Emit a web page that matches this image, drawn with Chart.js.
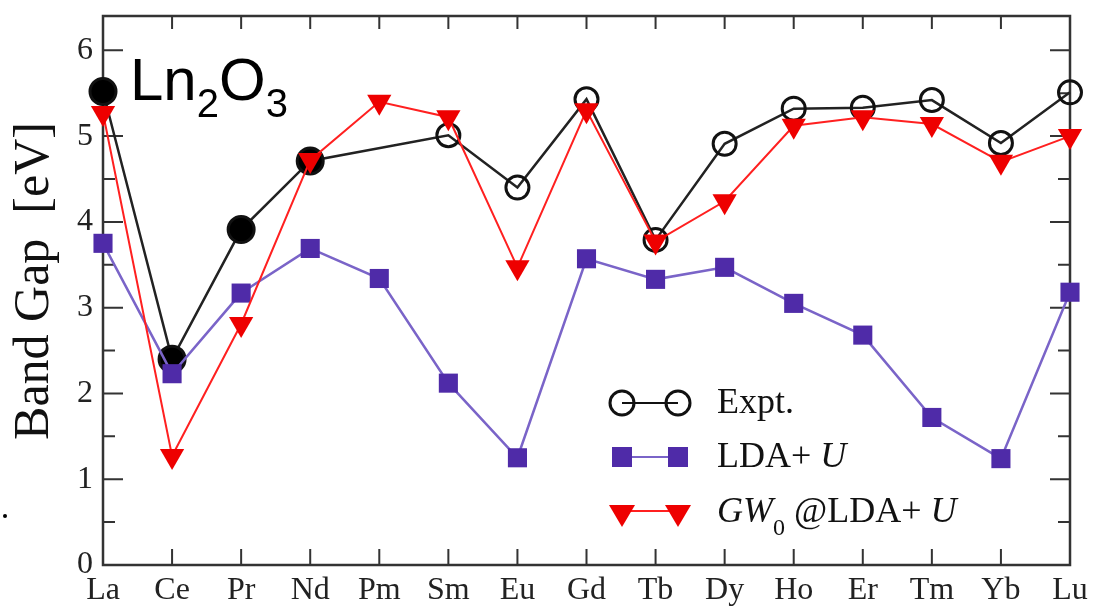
<!DOCTYPE html>
<html>
<head>
<meta charset="utf-8">
<script src="https://cdn.jsdelivr.net/npm/chart.js@4"></script>
<style>
  body { margin:0; background:#fff; }
  #wrap { width:1096px; height:613px; position:relative; }
</style>
</head>
<body>
<div id="wrap"><canvas id="gapChart"></canvas></div>
<script>
// DATA
const elements = ['La','Ce','Pr','Nd','Pm','Sm','Eu','Gd','Tb','Dy','Ho','Er','Tm','Yb','Lu'];
const expt   = [5.52,2.40,3.91,4.71,null,5.01,4.40,5.43,3.79,4.91,5.32,5.33,5.42,4.92,5.51];
const ldaU   = [3.75,2.23,3.17,3.69,3.34,2.12,1.25,3.57,3.33,3.47,3.05,2.68,1.72,1.24,3.18];
const gw0    = [5.27,1.27,2.81,4.72,5.40,5.22,3.47,5.30,3.77,4.24,5.12,5.22,5.14,4.70,5.00];
const yTicks = [0,1,2,3,4,5,6];
const filledExpt = ['La','Ce','Pr','Nd'];

const PURPLE = '#4f2ba8';
const SERIF = '"Liberation Serif", "Times New Roman", serif';

// FRAME + INWARD TICKS
const framePlugin = {
  id:'frame',
  beforeDatasetsDraw(chart){
    const {ctx, chartArea:a, scales:{x,y}} = chart;
    ctx.save();
    ctx.strokeStyle = '#333';
    ctx.lineWidth = 2.5;
    ctx.strokeRect(a.left, a.top, a.right-a.left, a.bottom-a.top);
    ctx.lineWidth = 2;
    ctx.beginPath();
    for(let v=0; v<=6.01; v+=0.5){
      const py = y.getPixelForValue(v);
      const len = Number.isInteger(v) ? 20 : 12;
      ctx.moveTo(a.left, py); ctx.lineTo(a.left+len, py);
      ctx.moveTo(a.right, py); ctx.lineTo(a.right-len, py);
    }
    elements.forEach((e,i)=>{
      const px = x.getPixelForValue(i);
      ctx.moveTo(px, a.bottom); ctx.lineTo(px, a.bottom-16);
      ctx.moveTo(px, a.top); ctx.lineTo(px, a.top+13);
    });
    ctx.stroke();
    ctx.restore();
  },
  afterDraw(chart){
    const {ctx} = chart;
    ctx.save();
    // y title
    ctx.translate(35, 281);
    ctx.rotate(-Math.PI/2);
    ctx.fillStyle = '#111';
    ctx.font = '50px ' + SERIF;
    ctx.textAlign = 'center';
    ctx.textBaseline = 'middle';
    ctx.fillText('Band Gap  [eV]', 0, 0);
    ctx.restore();

    // Ln2O3 label
    ctx.save();
    ctx.fillStyle = '#000';
    ctx.textBaseline = 'alphabetic';
    let tx = 130;
    const big = '60px "Liberation Sans", Arial, sans-serif';
    const sub = '40px "Liberation Sans", Arial, sans-serif';
    [['Ln',big,100],['2',sub,117],['O',big,100],['3',sub,117]].forEach(([t,f,b])=>{
      ctx.font = f; ctx.fillText(t, tx, b); tx += ctx.measureText(t).width;
    });
    // stray dot
    ctx.beginPath(); ctx.arc(5,516,2,0,Math.PI*2); ctx.fill();
    ctx.restore();

    // legend
    ctx.save();
    const x1 = 622, x2 = 678, tx0 = 717;
    const rows = [403, 457, 511];
    // expt
    ctx.strokeStyle = '#111'; ctx.lineWidth = 2;
    ctx.beginPath(); ctx.moveTo(x1, rows[0]); ctx.lineTo(x2, rows[0]); ctx.stroke();
    ctx.lineWidth = 3;
    [x1,x2].forEach(px=>{ ctx.beginPath(); ctx.arc(px, rows[0], 12, 0, Math.PI*2); ctx.stroke(); });
    // lda+u
    ctx.strokeStyle = '#7a64c8'; ctx.lineWidth = 2;
    ctx.beginPath(); ctx.moveTo(x1, rows[1]); ctx.lineTo(x2, rows[1]); ctx.stroke();
    ctx.fillStyle = PURPLE;
    [x1,x2].forEach(px=> ctx.fillRect(px-10, rows[1]-10, 20, 20));
    // gw0
    ctx.strokeStyle = '#ff2020'; ctx.lineWidth = 2;
    ctx.beginPath(); ctx.moveTo(x1, rows[2]); ctx.lineTo(x2, rows[2]); ctx.stroke();
    ctx.fillStyle = '#ee0000';
    [x1,x2].forEach(px=>{
      ctx.beginPath();
      ctx.moveTo(px-13, rows[2]-6); ctx.lineTo(px+13, rows[2]-6); ctx.lineTo(px, rows[2]+16);
      ctx.closePath(); ctx.fill();
    });
    // texts
    ctx.fillStyle = '#111';
    ctx.textBaseline = 'alphabetic';
    const reg = '36px ' + SERIF, ita = 'italic 36px ' + SERIF, small = '24px ' + SERIF;
    ctx.font = reg; ctx.fillText('Expt.', tx0, 413);
    let lx = tx0;
    [['LDA+ ',reg,467],['U',ita,467]].forEach(([t,f,b])=>{
      ctx.font = f; ctx.fillText(t, lx, b); lx += ctx.measureText(t).width;
    });
    lx = tx0;
    [['GW',ita,522],['0',small,535],[' @LDA+ ',reg,522],['U',ita,522]].forEach(([t,f,b])=>{
      ctx.font = f; ctx.fillText(t, lx, b); lx += ctx.measureText(t).width;
    });
    ctx.restore();
  }
};

new Chart(document.getElementById('gapChart').getContext('2d'), {
  type:'line',
  data:{
    labels: elements,
    datasets:[
      {
        label:'GW0@LDA+U', data:gw0,
        borderColor:'#ff2020', borderWidth:2,
        pointStyle:'triangle', pointRotation:180, pointRadius:14,
        pointBackgroundColor:'#ee0000', pointBorderColor:'#ee0000', pointBorderWidth:0,
        clip:false, order:0
      },
      {
        label:'LDA+U', data:ldaU,
        borderColor:'#7a64c8', borderWidth:2.5,
        pointStyle:'rect', pointRadius:13.5,
        pointBackgroundColor:PURPLE, pointBorderColor:PURPLE, pointBorderWidth:0,
        clip:false, order:1
      },
      {
        label:'Expt.', data:expt, spanGaps:true,
        borderColor:'#222', borderWidth:2.5,
        pointStyle:'circle',
        pointRadius: elements.map(e => filledExpt.includes(e) ? 13 : 11.5),
        pointBackgroundColor: elements.map(e => filledExpt.includes(e) ? '#000' : 'rgba(0,0,0,0)'),
        pointBorderColor:'#111', pointBorderWidth:3,
        clip:false, order:2
      }
    ]
  },
  options:{
    responsive:true, maintainAspectRatio:false, animation:false,
    layout:{ padding:{ top:13, right:26, left:0, bottom:0 } },
    plugins:{ legend:{display:false}, tooltip:{enabled:false} },
    elements:{ line:{ tension:0 } },
    scales:{
      x:{
        type:'category', offset:false,
        grid:{ display:false, drawTicks:false }, border:{ display:false },
        ticks:{ font:{ family:SERIF, size:32 }, color:'#222', padding:6, maxRotation:0, autoSkip:false },
        afterFit(s){ s.height = 48; }
      },
      y:{
        min:0, max:6.4,
        grid:{ display:false, drawTicks:false }, border:{ display:false },
        ticks:{ font:{ family:SERIF, size:32 }, color:'#222', padding:10 },
        afterBuildTicks(s){ s.ticks = yTicks.map(v => ({value:v})); },
        afterFit(s){ s.width = 103; s.paddingTop = 0; s.paddingBottom = 0; }
      }
    }
  },
  plugins:[framePlugin]
});
</script>
</body>
</html>
